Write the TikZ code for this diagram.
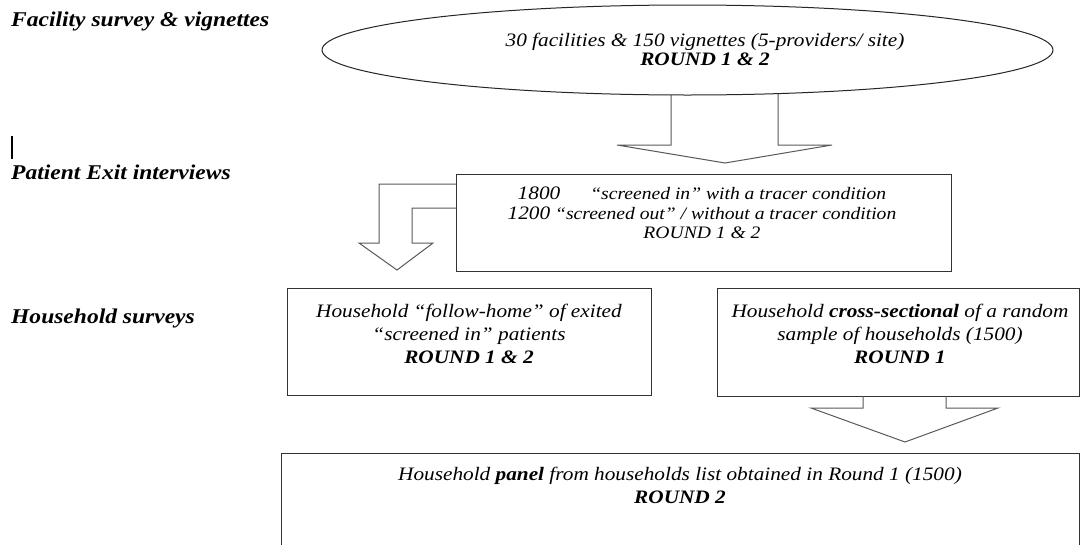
\documentclass[tikz,border=0pt]{standalone}
\usepackage{fontspec}
\setmainfont[FakeStretch=1.12]{Liberation Serif}
\usetikzlibrary{shapes.geometric}
\begin{document}
\begin{tikzpicture}[x=1pt,y=-1pt,
  lbl/.style={anchor=west,inner sep=0pt,font=\fontsize{21}{23}\selectfont\bfseries\itshape},
  txt/.style={align=center,inner sep=0pt,font=\fontsize{19}{23}\selectfont\itshape},
  boxframe/.style={draw=black!80,line width=1.3pt,fill=white,inner sep=0pt,anchor=north west},
  blockarrow/.style={draw=black!65,line width=1pt,line join=miter},
]
\useasboundingbox (0,0) rectangle (1082,544);
\clip (0,0) rectangle (1082,544);

% left labels
\node[lbl] (l1) at (11,21) {Facility survey \& vignettes};
\node[lbl] (l2) at (11,172) {Patient Exit interviews};
\node[lbl] (l3) at (11,318) {Household surveys};
\draw[line width=1.6pt] (12,136) -- (12,159);

% block arrow 1 (ellipse -> patient box)
\draw[blockarrow] (671,80) -- (671,145) -- (617,145) -- (725,163) -- (832,145) -- (778,145) -- (778,80);

% ellipse
\node[draw=black!85,line width=1pt,fill=white,ellipse,minimum width=731,minimum height=90,inner sep=0pt] (fac) at (687.5,50) {};
\node[txt,font=\fontsize{19}{19}\selectfont\itshape] (factxt) at (705,49) {30 facilities \& 150 vignettes (5-providers/ site)\\\textbf{ROUND 1 \& 2}};

% patient box
\node[boxframe,minimum width=495,minimum height=97] (pat) at (456,174) {};
\node[txt,font=\fontsize{17.5}{20}\selectfont\itshape] (pattxt) at (702,213) {{\fontsize{19}{20}\selectfont 1800}\hspace{30pt}“screened in” with a tracer condition\hspace{30pt}\\
{\fontsize{19}{20}\selectfont 1200} “screened out” / without a tracer condition\\[-1pt]ROUND 1 \& 2};

% block arrow 2 (patient box -> follow-home)
\draw[blockarrow] (456,184) -- (379,184) -- (379,243) -- (359,243) -- (397,270) -- (433,243) -- (412,243) -- (412,208) -- (456,208);

% follow-home box
\node[boxframe,minimum width=364,minimum height=107] (fh) at (287,288) {};
\node[txt] (fhtxt) at (469,334) {Household “follow-home” of exited\\“screened in” patients\\\textbf{ROUND 1 \& 2}};

% cross-sectional box
\node[boxframe,minimum width=362,minimum height=108] (cs) at (717,288) {};
\node[txt] (cstxt) at (900,334) {Household \textbf{cross-sectional} of a random\\sample of households (1500)\\\textbf{ROUND 1}};

% block arrow 3 (cross-sectional -> panel)
\draw[blockarrow] (863,396) -- (863,408) -- (811,408) -- (905,442) -- (998,408) -- (946,408) -- (946,396);

% panel box
\node[boxframe,minimum width=798,minimum height=120] (pan) at (281,453) {};
\node[txt] (pantxt) at (680,485) {Household \textbf{panel} from households list obtained in Round 1 (1500)\\\textbf{ROUND 2}};
\end{tikzpicture}
\end{document}
